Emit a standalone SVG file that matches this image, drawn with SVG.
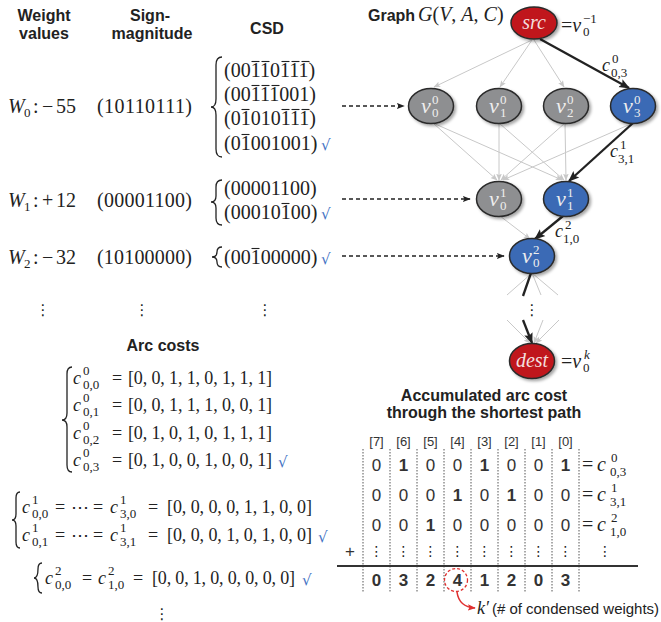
<svg xmlns="http://www.w3.org/2000/svg" width="661" height="622" viewBox="0 0 661 622">
<style>
.h{font-family:"Liberation Sans",Arial,sans-serif;font-weight:bold;font-size:16px;fill:#222;text-anchor:middle}
.m{font-family:"Liberation Serif","Times New Roman",serif;font-size:20px;fill:#222}
.a{font-family:"Liberation Serif","Times New Roman",serif;font-size:18px;fill:#222}
.i{font-style:italic}
.s{font-family:"Liberation Serif","Times New Roman",serif;font-size:13px;fill:#222}
.ck{font-family:"DejaVu Sans",sans-serif;font-size:15px;fill:#4472c4}
.dt{font-family:"DejaVu Sans",sans-serif;font-size:15px;fill:#222;text-anchor:middle}
.t{font-family:"Liberation Sans",Arial,sans-serif;font-size:17px;fill:#333;text-anchor:middle}
.b{font-weight:bold}
.hd{font-family:"Liberation Sans",Arial,sans-serif;font-size:13px;fill:#333;text-anchor:middle}
.nl{font-family:"Liberation Serif","Times New Roman",serif;font-style:italic;font-size:22px;fill:#eee}
.ns{font-family:"Liberation Serif","Times New Roman",serif;font-size:13px;fill:#eee}
.br{fill:none;stroke:#222;stroke-width:1.3}
.ov{stroke:#222;stroke-width:1.1}
.g{stroke:#c8c8c8;stroke-width:1;fill:none}
.k{stroke:#222;stroke-width:2.3;fill:none}
.gray{fill:#8e8f91;stroke:#2a2a2a;stroke-width:1.5}
.blue{fill:#3a6ab5;stroke:#2a2a2a;stroke-width:1.5}
.red{fill:#c0191f;stroke:#2a2a2a;stroke-width:1.5}
.da{stroke:#222;stroke-width:1.5;stroke-dasharray:4 3;fill:none}
.vd{stroke:#555;stroke-width:1;stroke-dasharray:1.5 1.5}
</style>
<defs>
<filter id="sh" x="-30%" y="-30%" width="170%" height="170%"><feDropShadow dx="2" dy="2" stdDeviation="1.5" flood-color="#000" flood-opacity="0.35"/></filter>
<marker id="ab" viewBox="0 0 10 10" refX="9" refY="5" markerWidth="11" markerHeight="11" markerUnits="userSpaceOnUse" orient="auto"><path d="M0,1 L10,5 L0,9 L2,5z" fill="#222"/></marker>
<marker id="ag" viewBox="0 0 10 10" refX="9" refY="5" markerWidth="7" markerHeight="7" markerUnits="userSpaceOnUse" orient="auto"><path d="M0,1 L10,5 L0,9 L2,5z" fill="#c8c8c8"/></marker>
<marker id="ad" viewBox="0 0 10 10" refX="9" refY="5" markerWidth="8" markerHeight="8" markerUnits="userSpaceOnUse" orient="auto"><path d="M0,1 L10,5 L0,9 L2,5z" fill="#222"/></marker>
<marker id="ar" viewBox="0 0 10 10" refX="9" refY="5" markerWidth="8" markerHeight="8" markerUnits="userSpaceOnUse" orient="auto"><path d="M0,1 L10,5 L0,9 L2,5z" fill="#e03030"/></marker>
</defs>

<!-- Headers -->
<text class="h" x="44" y="21">Weight</text>
<text class="h" x="44" y="39">values</text>
<text class="h" x="150" y="21">Sign-</text>
<text class="h" x="152" y="39">magnitude</text>
<text class="h" x="267" y="34">CSD</text>
<text class="h" x="368" y="21" style="text-anchor:start">Graph</text>
<text class="m" x="418" y="21"><tspan class="i">G</tspan>(<tspan class="i">V</tspan>, <tspan class="i">A</tspan>, <tspan class="i">C</tspan>)</text>

<!-- W0 row -->
<text class="m i" x="8" y="113">W</text><text class="s" x="24" y="117">0</text>
<text class="m" x="33" y="113">:</text><text class="m" x="42" y="113">−</text><text class="m" x="56" y="113">55</text>
<text class="m" x="97" y="113" textLength="95">(10110111)</text>
<path class="br" d="M222,57 Q216,57 216,65 L216,99 Q216,107 211,107 Q216,107 216,115 L216,149 Q216,157 222,157"/>
<text class="m" x="224" y="77">(00110111)</text>
<text class="m" x="224" y="101">(00111001)</text>
<text class="m" x="224" y="125">(01010111)</text>
<text class="m" x="224" y="150">(01001001)</text>
<g class="ov">
<line x1="251.5" y1="61.5" x2="259.5" y2="61.5"/><line x1="261.5" y1="61.5" x2="269.5" y2="61.5"/><line x1="281.5" y1="61.5" x2="289.5" y2="61.5"/><line x1="291.5" y1="61.5" x2="299.5" y2="61.5"/><line x1="301.5" y1="61.5" x2="309.5" y2="61.5"/>
<line x1="251.5" y1="85.5" x2="259.5" y2="85.5"/><line x1="261.5" y1="85.5" x2="269.5" y2="85.5"/><line x1="271.5" y1="85.5" x2="279.5" y2="85.5"/>
<line x1="241.5" y1="109.5" x2="249.5" y2="109.5"/><line x1="281.5" y1="109.5" x2="289.5" y2="109.5"/><line x1="291.5" y1="109.5" x2="299.5" y2="109.5"/><line x1="301.5" y1="109.5" x2="309.5" y2="109.5"/>
<line x1="241.5" y1="134.5" x2="249.5" y2="134.5"/>
<line x1="281.5" y1="203.5" x2="289.5" y2="203.5"/>
<line x1="251.5" y1="248.5" x2="259.5" y2="248.5"/>
</g>
<text class="ck" x="321" y="150">√</text>

<!-- W1 row -->
<text class="m i" x="8" y="207">W</text><text class="s" x="24" y="211">1</text>
<text class="m" x="33" y="207">:</text><text class="m" x="42" y="207">+</text><text class="m" x="56" y="207">12</text>
<text class="m" x="97" y="207" textLength="95">(00001100)</text>
<path class="br" d="M222,180 Q216,180 216,187 L216,196 Q216,202 211,202 Q216,202 216,208 L216,218 Q216,225 222,225"/>
<text class="m" x="224" y="195">(00001100)</text>
<text class="m" x="224" y="219">(00010100)</text>
<text class="ck" x="321" y="219">√</text>

<!-- W2 row -->
<text class="m i" x="8" y="264">W</text><text class="s" x="24" y="268">2</text>
<text class="m" x="33" y="264">:</text><text class="m" x="42" y="264">−</text><text class="m" x="56" y="264">32</text>
<text class="m" x="97" y="264" textLength="95">(10100000)</text>
<path class="br" d="M222,247 Q217,247 217,252 Q217,257 212,257 Q217,257 217,262 Q217,267 222,267"/>
<text class="m" x="224" y="264">(00100000)</text>
<text class="ck" x="321" y="264">√</text>

<text class="dt" x="43" y="315">⋮</text>
<text class="dt" x="142" y="315">⋮</text>
<text class="dt" x="265" y="315">⋮</text>

<!-- Arc costs -->
<text class="h" x="163" y="351">Arc costs</text>
<path class="br" d="M72,367 Q67,367 67,374 L67,413 Q67,420 62,420 Q67,420 67,427 L67,465 Q67,472 72,472"/>
<text class="a i" x="73" y="384">c</text><text class="s" x="83" y="375">0</text><text class="s" x="83" y="389">0,0</text>
<text class="a" x="112" y="384">=</text><text class="a" x="128" y="384" textLength="144">[0, 0, 1, 1, 0, 1, 1, 1]</text>
<text class="a i" x="73" y="411">c</text><text class="s" x="83" y="402">0</text><text class="s" x="83" y="416">0,1</text>
<text class="a" x="112" y="411">=</text><text class="a" x="128" y="411" textLength="144">[0, 0, 1, 1, 1, 0, 0, 1]</text>
<text class="a i" x="73" y="439">c</text><text class="s" x="83" y="430">0</text><text class="s" x="83" y="444">0,2</text>
<text class="a" x="112" y="439">=</text><text class="a" x="128" y="439" textLength="144">[0, 1, 0, 1, 0, 1, 1, 1]</text>
<text class="a i" x="73" y="466">c</text><text class="s" x="83" y="457">0</text><text class="s" x="83" y="471">0,3</text>
<text class="a" x="112" y="466">=</text><text class="a" x="128" y="466" textLength="144">[0, 1, 0, 0, 1, 0, 0, 1]</text>
<text class="ck" x="278" y="467">√</text>

<path class="br" d="M20,492 Q16,492 16,498 L16,514 Q16,520 12,520 Q16,520 16,526 L16,542 Q16,548 20,548"/>
<text class="a i" x="22" y="513">c</text><text class="s" x="32" y="504">1</text><text class="s" x="32" y="518">0,0</text>
<text class="a" x="55" y="513">=</text><text class="a" x="71" y="513">⋯</text><text class="a" x="93" y="513">=</text>
<text class="a i" x="110" y="513">c</text><text class="s" x="120" y="504">1</text><text class="s" x="120" y="518">3,0</text>
<text class="a" x="148" y="513">=</text><text class="a" x="167" y="513" textLength="145">[0, 0, 0, 0, 1, 1, 0, 0]</text>
<text class="a i" x="22" y="541">c</text><text class="s" x="32" y="532">1</text><text class="s" x="32" y="546">0,1</text>
<text class="a" x="55" y="541">=</text><text class="a" x="71" y="541">⋯</text><text class="a" x="93" y="541">=</text>
<text class="a i" x="110" y="541">c</text><text class="s" x="120" y="532">1</text><text class="s" x="120" y="546">3,1</text>
<text class="a" x="148" y="541">=</text><text class="a" x="167" y="541" textLength="145">[0, 0, 0, 1, 0, 1, 0, 0]</text>
<text class="ck" x="318" y="542">√</text>

<path class="br" d="M42,563 Q38,563 38,569 Q38,578 34,578 Q38,578 38,587 Q38,593 42,593"/>
<text class="a i" x="45" y="584">c</text><text class="s" x="55" y="575">2</text><text class="s" x="55" y="589">0,0</text>
<text class="a" x="82" y="584">=</text>
<text class="a i" x="98" y="584">c</text><text class="s" x="108" y="575">2</text><text class="s" x="108" y="589">1,0</text>
<text class="a" x="133" y="584">=</text><text class="a" x="152" y="584" textLength="143">[0, 0, 1, 0, 0, 0, 0, 0]</text>
<text class="ck" x="302" y="585">√</text>
<text class="dt" x="162" y="619">⋮</text>

<!-- Connectors -->
<g id="connectors">
<path class="da" d="M342,106 L404,106" marker-end="url(#ad)"/>
<path class="da" d="M342,199 L470,199" marker-end="url(#ad)"/>
<path class="da" d="M342,256 L504,256" marker-end="url(#ad)"/>
<path class="g" d="M532,40 L434,87" marker-end="url(#ag)"/>
<path class="g" d="M532,40 L500,87" marker-end="url(#ag)"/>
<path class="g" d="M534,40 L564,87" marker-end="url(#ag)"/>
<path class="g" d="M433,123 L497,180" marker-end="url(#ag)"/>
<path class="g" d="M433,123 L562,180" marker-end="url(#ag)"/>
<path class="g" d="M499,123 L499,180" marker-end="url(#ag)"/>
<path class="g" d="M499,123 L564,180" marker-end="url(#ag)"/>
<path class="g" d="M565,123 L501,180" marker-end="url(#ag)"/>
<path class="g" d="M565,123 L566,180" marker-end="url(#ag)"/>
<path class="g" d="M633,123 L503,180" marker-end="url(#ag)"/>
<path class="g" d="M500,216 L530,239" marker-end="url(#ag)"/>
<path class="g" d="M532,273 L507,295"/>
<path class="g" d="M532,273 L541,295"/>
<path class="g" d="M532,273 L558,295"/>
<path class="g" d="M507,320 L530,343" marker-end="url(#ag)"/>
<path class="g" d="M543,320 L534,343" marker-end="url(#ag)"/>
<path class="g" d="M559,320 L536,343" marker-end="url(#ag)"/>
<path class="k" d="M540,39 L629,88" marker-end="url(#ab)"/>
<path class="k" d="M633,123 L569,181" marker-end="url(#ab)"/>
<path class="k" d="M563,216 L535,239" marker-end="url(#ab)"/>
<path class="k" d="M531,273 L523,296"/>
<path class="k" d="M523,320 L532,343" marker-end="url(#ab)"/>
</g>
<text class="dt" x="532" y="315">⋮</text>

<!-- edge labels -->
<text class="a i" x="602" y="71">c</text><text class="s" x="612" y="63">0</text><text class="s" x="611" y="77">0,3</text>
<text class="a i" x="610" y="157">c</text><text class="s" x="620" y="149">1</text><text class="s" x="618" y="163">3,1</text>
<text class="a i" x="555" y="237">c</text><text class="s" x="565" y="229">2</text><text class="s" x="563" y="243">1,0</text>

<!-- Nodes -->
<g id="src"><ellipse class="red" filter="url(#sh)" cx="534" cy="23" rx="23" ry="16"/><text class="nl" x="534" y="29" text-anchor="middle" style="font-size:20px;fill:#f3dede">src</text></g>
<text class="m" x="561" y="32">=<tspan class="i">v</tspan></text><text class="s" x="583" y="23">−1</text><text class="s" x="583" y="36">0</text>
<g id="v0_0"><ellipse class="gray" filter="url(#sh)" cx="431" cy="106" rx="22.5" ry="17.5"/><text class="nl" x="421" y="113">v</text><text class="ns" x="432" y="104">0</text><text class="ns" x="432" y="117">0</text></g>
<g id="v1_0"><ellipse class="gray" filter="url(#sh)" cx="499" cy="106" rx="22.5" ry="17.5"/><text class="nl" x="489" y="113">v</text><text class="ns" x="500" y="104">0</text><text class="ns" x="500" y="117">1</text></g>
<g id="v2_0"><ellipse class="gray" filter="url(#sh)" cx="566" cy="106" rx="22.5" ry="17.5"/><text class="nl" x="556" y="113">v</text><text class="ns" x="567" y="104">0</text><text class="ns" x="567" y="117">2</text></g>
<g id="v3_0"><ellipse class="blue" filter="url(#sh)" cx="633" cy="106" rx="22.5" ry="17.5"/><text class="nl" x="623" y="113">v</text><text class="ns" x="634" y="104">0</text><text class="ns" x="634" y="117">3</text></g>
<g id="v0_1"><ellipse class="gray" filter="url(#sh)" cx="499" cy="199" rx="22.5" ry="17.5"/><text class="nl" x="489" y="206">v</text><text class="ns" x="500" y="197">1</text><text class="ns" x="500" y="210">0</text></g>
<g id="v1_1"><ellipse class="blue" filter="url(#sh)" cx="566" cy="199" rx="22.5" ry="17.5"/><text class="nl" x="556" y="206">v</text><text class="ns" x="567" y="197">1</text><text class="ns" x="567" y="210">1</text></g>
<g id="v0_2"><ellipse class="blue" filter="url(#sh)" cx="532" cy="256" rx="22.5" ry="17.5"/><text class="nl" x="522" y="263">v</text><text class="ns" x="533" y="254">2</text><text class="ns" x="533" y="267">0</text></g>
<g id="dest"><ellipse class="red" filter="url(#sh)" cx="532" cy="361" rx="22.5" ry="17.5"/><text class="nl" x="532" y="367" text-anchor="middle" style="font-size:20px;fill:#f3dede">dest</text></g>
<text class="m" x="561" y="368">=<tspan class="i">v</tspan></text><text class="s i" x="584" y="359">k</text><text class="s" x="583" y="372">0</text>

<!-- Accumulated -->
<text class="h" x="484" y="401">Accumulated arc cost</text>
<text class="h" x="484" y="418">through the shortest path</text>
<g class="hd">
<text x="376.5" y="446">[7]</text><text x="403.5" y="446">[6]</text><text x="430.5" y="446">[5]</text><text x="457.5" y="446">[4]</text><text x="484.5" y="446">[3]</text><text x="511.5" y="446">[2]</text><text x="538.5" y="446">[1]</text><text x="565.5" y="446">[0]</text>
</g>
<g>
<line class="vd" x1="363" y1="449" x2="363" y2="593"/>
<line class="vd" x1="390" y1="449" x2="390" y2="593"/>
<line class="vd" x1="417" y1="449" x2="417" y2="593"/>
<line class="vd" x1="444" y1="449" x2="444" y2="593"/>
<line class="vd" x1="471" y1="449" x2="471" y2="593"/>
<line class="vd" x1="498" y1="449" x2="498" y2="593"/>
<line class="vd" x1="525" y1="449" x2="525" y2="593"/>
<line class="vd" x1="552" y1="449" x2="552" y2="593"/>
<line class="vd" x1="579" y1="449" x2="579" y2="593"/>
</g>
<g class="t">
<text x="376.5" y="471">0</text><text class="b" x="403.5" y="471">1</text><text x="430.5" y="471">0</text><text x="457.5" y="471">0</text><text class="b" x="484.5" y="471">1</text><text x="511.5" y="471">0</text><text x="538.5" y="471">0</text><text class="b" x="565.5" y="471">1</text>
<text x="376.5" y="501">0</text><text x="403.5" y="501">0</text><text x="430.5" y="501">0</text><text class="b" x="457.5" y="501">1</text><text x="484.5" y="501">0</text><text class="b" x="511.5" y="501">1</text><text x="538.5" y="501">0</text><text x="565.5" y="501">0</text>
<text x="376.5" y="531">0</text><text x="403.5" y="531">0</text><text class="b" x="430.5" y="531">1</text><text x="457.5" y="531">0</text><text x="484.5" y="531">0</text><text x="511.5" y="531">0</text><text x="538.5" y="531">0</text><text x="565.5" y="531">0</text>
<text x="350" y="557">+</text>
<text class="b" x="376.5" y="586">0</text><text class="b" x="403.5" y="586">3</text><text class="b" x="430.5" y="586">2</text><text class="b" x="457.5" y="586">4</text><text class="b" x="484.5" y="586">1</text><text class="b" x="511.5" y="586">2</text><text class="b" x="538.5" y="586">0</text><text class="b" x="565.5" y="586">3</text>
</g>
<g class="dt" style="font-size:14px">
<text x="376.5" y="556">⋮</text><text x="403.5" y="556">⋮</text><text x="430.5" y="556">⋮</text><text x="457.5" y="556">⋮</text><text x="484.5" y="556">⋮</text><text x="511.5" y="556">⋮</text><text x="538.5" y="556">⋮</text><text x="565.5" y="556">⋮</text><text x="605" y="556">⋮</text>
</g>
<line x1="337" y1="566" x2="638" y2="566" stroke="#333" stroke-width="2"/>
<text class="m" x="582" y="471">=</text><text class="m i" x="597" y="471">c</text><text class="s" x="611" y="462">0</text><text class="s" x="610" y="476">0,3</text>
<text class="m" x="582" y="501">=</text><text class="m i" x="597" y="501">c</text><text class="s" x="611" y="492">1</text><text class="s" x="610" y="506">3,1</text>
<text class="m" x="582" y="531">=</text><text class="m i" x="597" y="531">c</text><text class="s" x="611" y="522">2</text><text class="s" x="610" y="536">1,0</text>

<circle cx="456" cy="580" r="11.5" fill="none" stroke="#e03030" stroke-width="1.3" stroke-dasharray="3 2"/>
<path d="M457,592 Q459,607 475,608" fill="none" stroke="#e03030" stroke-width="1.5" marker-end="url(#ar)"/>
<text class="m i" x="477" y="614" style="font-size:18px">k′</text>
<text x="492" y="614" textLength="167" style="font-family:'Liberation Sans',Arial,sans-serif;font-size:15px;fill:#222">(# of condensed weights)</text>
</svg>
